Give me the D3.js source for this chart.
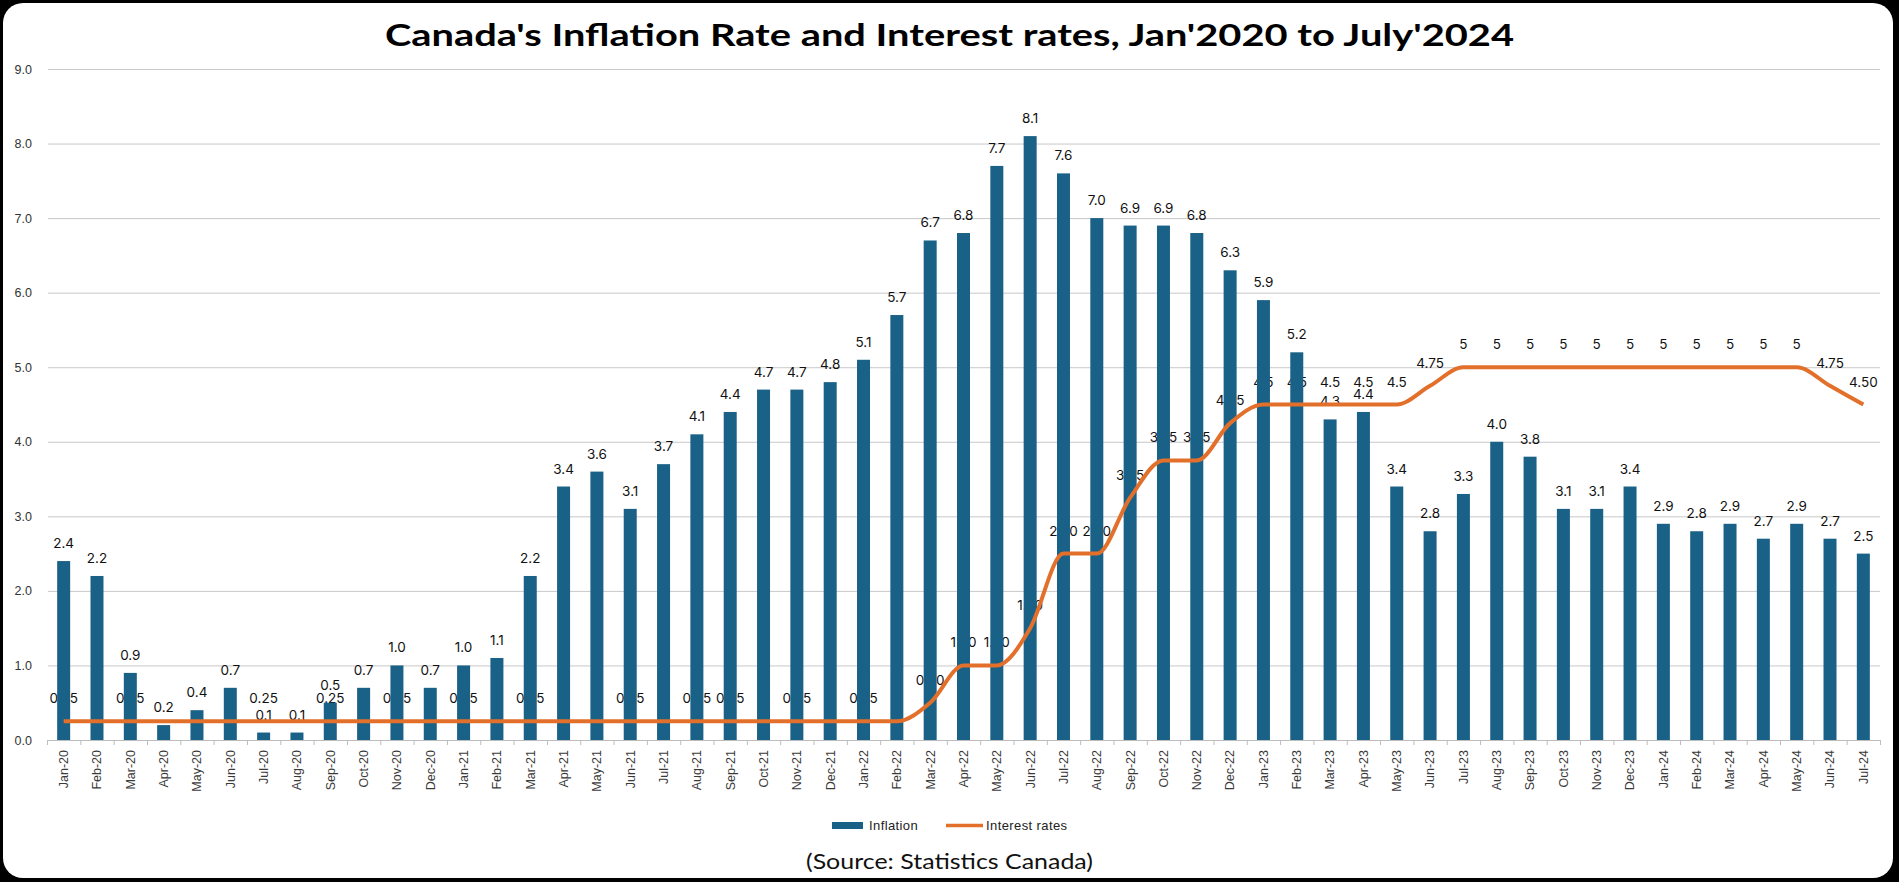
<!DOCTYPE html>
<html>
<head>
<meta charset="utf-8">
<script src="https://cdn.jsdelivr.net/npm/d3@7"></script>
<style>
  body { margin: 0; background: #000; }
  text { font-family: "Liberation Sans", Arial, sans-serif; }
</style>
</head>
<body>
<svg class="svgChart"></svg>
<script>
// months on the x axis
var months = ["Jan-20","Feb-20","Mar-20","Apr-20","May-20","Jun-20","Jul-20","Aug-20","Sep-20","Oct-20","Nov-20","Dec-20",
  "Jan-21","Feb-21","Mar-21","Apr-21","May-21","Jun-21","Jul-21","Aug-21","Sep-21","Oct-21","Nov-21","Dec-21",
  "Jan-22","Feb-22","Mar-22","Apr-22","May-22","Jun-22","Jul-22","Aug-22","Sep-22","Oct-22","Nov-22","Dec-22",
  "Jan-23","Feb-23","Mar-23","Apr-23","May-23","Jun-23","Jul-23","Aug-23","Sep-23","Oct-23","Nov-23","Dec-23",
  "Jan-24","Feb-24","Mar-24","Apr-24","May-24","Jun-24","Jul-24"];

// inflation (bars)
var inflation = [2.4,2.2,0.9,0.2,0.4,0.7,0.1,0.1,0.5,0.7,1.0,0.7,
  1.0,1.1,2.2,3.4,3.6,3.1,3.7,4.1,4.4,4.7,4.7,4.8,
  5.1,5.7,6.7,6.8,7.7,8.1,7.6,7.0,6.9,6.9,6.8,6.3,
  5.9,5.2,4.3,4.4,3.4,2.8,3.3,4.0,3.8,3.1,3.1,3.4,
  2.9,2.8,2.9,2.7,2.9,2.7,2.5];

// interest rates (line)
var interest = [0.25,0.25,0.25,0.25,0.25,0.25,0.25,0.25,0.25,0.25,0.25,0.25,
  0.25,0.25,0.25,0.25,0.25,0.25,0.25,0.25,0.25,0.25,0.25,0.25,
  0.25,0.25,0.5,1.0,1.0,1.5,2.5,2.5,3.25,3.75,3.75,4.25,
  4.5,4.5,4.5,4.5,4.5,4.75,5,5,5,5,5,5,
  5,5,5,5,5,4.75,4.5];

// labels shown on the line ("" = none)
var interestLabels = ["0.25","","0.25","","","","0.25","","0.25","","0.25","",
  "0.25","","0.25","","","0.25","","0.25","0.25","","0.25","",
  "0.25","","0.50","1.00","1.00","1.50","2.50","2.50","3.25","3.75","3.75","4.25",
  "4.5","4.5","4.5","4.5","4.5","4.75","5","5","5","5","5","5",
  "5","5","5","5","5","4.75","4.50"];

var yTicks = [0,1,2,3,4,5,6,7,8,9];

var W = 1899, H = 882;
var barColor = "#1a6187", lineColor = "#e2702b";

var svg = d3.select('.svgChart')
  .attr('width', W)
  .attr('height', H);

// frame
svg.append('rect').attr('width', W).attr('height', H).attr('fill', '#000');
svg.append('rect')
  .attr('x', 3).attr('y', 3)
  .attr('width', W - 9).attr('height', H - 7)
  .attr('rx', 20)
  .attr('fill', '#fff');

// scales
var x = d3.scaleBand()
  .domain(months)
  .range([47, 1880])
  .paddingInner(0.61)
  .paddingOuter(0.305);
var edges = d3.scaleLinear().domain([0, months.length]).range([47, 1880]);
var y = d3.scaleLinear().domain([0, 9]).range([740, 69]);

function cx(i) { return x(months[i]) + x.bandwidth() / 2; }

// grid + y labels
var yAxis = svg.append('g')
  .attr('transform', 'translate(48,0)')
  .call(d3.axisLeft(y).tickValues(yTicks).tickSize(-(1880 - 48)).tickPadding(16).tickFormat(d3.format('.1f')));
yAxis.select('.domain').remove();
yAxis.selectAll('line').attr('stroke', '#c8c8c8');
yAxis.selectAll('text').attr('font-size', 12.5).attr('fill', '#333');

// tick marks at month boundaries
var tickAxis = svg.append('g')
  .attr('transform', 'translate(0,740)')
  .call(d3.axisBottom(edges).tickValues(d3.range(0, months.length + 1)).tickSize(5).tickFormat(''));
tickAxis.select('.domain').attr('stroke', '#bdbdbd');
tickAxis.selectAll('line').attr('stroke', '#bdbdbd');

// month labels
var xAxis = svg.append('g')
  .attr('transform', 'translate(0,740)')
  .call(d3.axisBottom(x).tickSize(0));
xAxis.select('.domain').remove();
xAxis.selectAll('text')
  .attr('transform', 'rotate(-90)')
  .attr('text-anchor', 'end')
  .attr('x', -10)
  .attr('y', 0)
  .attr('dy', '0.35em')
  .attr('font-size', 12.5)
  .attr('fill', '#3a3a3a');

// line labels go under the bars, like the original
svg.append('g').selectAll('text')
  .data(interest)
  .enter().append('text')
  .attr('x', function (d, i) { return cx(i); })
  .attr('y', function (d) { return y(d) - 18; })
  .attr('text-anchor', 'middle')
  .style('font-family', 'Inter, sans-serif')
  .attr('font-size', 13.5)
  .attr('fill', '#111')
  .text(function (d, i) { return interestLabels[i]; });

// bars
svg.append('g').selectAll('rect')
  .data(inflation)
  .enter().append('rect')
  .attr('x', function (d, i) { return x(months[i]); })
  .attr('y', function (d) { return y(d); })
  .attr('width', x.bandwidth())
  .attr('height', function (d) { return y(0) - y(d); })
  .attr('fill', barColor);

// bar labels
svg.append('g').selectAll('text')
  .data(inflation)
  .enter().append('text')
  .attr('x', function (d, i) { return cx(i); })
  .attr('y', function (d) { return y(d) - 13; })
  .attr('text-anchor', 'middle')
  .style('font-family', 'Inter, sans-serif')
  .attr('font-size', 13.5)
  .attr('fill', '#111')
  .text(function (d) { return d3.format('.1f')(d); });

// interest line
var line = d3.line()
  .x(function (d, i) { return cx(i); })
  .y(function (d) { return y(d); })
  .curve(d3.curveMonotoneX);
svg.append('path')
  .datum(interest)
  .attr('d', line)
  .attr('fill', 'none')
  .attr('stroke', lineColor)
  .attr('stroke-width', 4)
  .attr('stroke-linejoin', 'round');

// title
svg.append('text')
  .attr('x', 949.5)
  .attr('y', 46)
  .attr('text-anchor', 'middle')
  .style('font-family', 'Lato, sans-serif')
  .attr('font-weight', 'bold')
  .attr('font-size', 30)
  .attr('textLength', 1129)
  .attr('lengthAdjust', 'spacingAndGlyphs')
  .attr('fill', '#000')
  .text("Canada's Inflation Rate and Interest rates, Jan'2020 to July'2024");

// legend
var legend = svg.append('g');
legend.append('rect')
  .attr('x', 832).attr('y', 822)
  .attr('width', 31).attr('height', 7)
  .attr('fill', barColor);
legend.append('text')
  .attr('x', 869).attr('y', 830)
  .attr('font-size', 13)
  .attr('letter-spacing', 0.4)
  .attr('fill', '#222')
  .text('Inflation');
legend.append('line')
  .attr('x1', 946).attr('x2', 983)
  .attr('y1', 825.5).attr('y2', 825.5)
  .attr('stroke', lineColor)
  .attr('stroke-width', 3.5);
legend.append('text')
  .attr('x', 986).attr('y', 830)
  .attr('font-size', 13)
  .attr('letter-spacing', 0.4)
  .attr('fill', '#222')
  .text('Interest rates');

// source
svg.append('text')
  .attr('x', 949.5)
  .attr('y', 869)
  .attr('text-anchor', 'middle')
  .style('font-family', 'Lato, sans-serif')
  .attr('font-size', 22)
  .attr('textLength', 287)
  .attr('lengthAdjust', 'spacingAndGlyphs')
  .attr('fill', '#111')
  .text('(Source: Statistics Canada)');
</script>
</body>
</html>
